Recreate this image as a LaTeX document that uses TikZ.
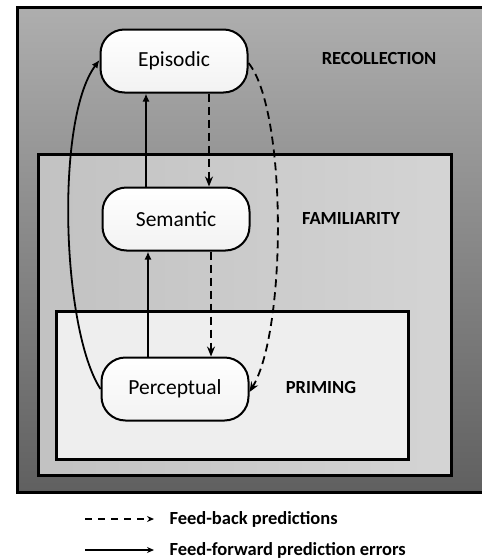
\documentclass[tikz,border=0pt]{standalone}
\usepackage{fontspec}
\setmainfont{Carlito}
\usetikzlibrary{arrows.meta}
\definecolor{outerdark}{HTML}{606060}
\definecolor{outerlight}{HTML}{AEAEAE}
\definecolor{middark}{HTML}{C2C2C2}
\definecolor{midlight}{HTML}{D4D4D4}
\definecolor{innerc}{HTML}{EEEEEE}
\tikzset{
  levelbox/.style={draw=black,line width=3pt},
  memnode/.style={draw=black,line width=2pt,rounded corners=24pt,
    top color=white,bottom color=gray!10,minimum width=147pt,minimum height=63pt,
    inner sep=0pt,font=\fontsize{21.5}{24}\selectfont},
  levellabel/.style={font=\bfseries\fontsize{18.5}{22}\selectfont},
  fwd/.style={line width=1.8pt,-{Latex[length=8pt,width=7pt]}},
  fbk/.style={line width=1.8pt,dash pattern=on 8pt off 5pt,-{Stealth[length=10pt,width=8pt]}},
  legtext/.style={font=\bfseries\fontsize{18.5}{22}\selectfont,anchor=west}
}
\begin{document}
\begin{tikzpicture}[x=1pt,y=-1pt]
\useasboundingbox (0,0) rectangle (482,560);
% outer box
\shade[shading angle=-45,top color=outerlight,bottom color=outerdark] (17,7) rectangle (495,492);
\draw[levelbox] (17,7) rectangle (495,492);
% middle box
\shade[left color=middark,right color=midlight] (38,154) rectangle (451,475);
\draw[levelbox] (38,154) rectangle (451,475);
% inner box
\fill[innerc] (56,311) rectangle (408,459);
\draw[levelbox] (56,311) rectangle (408,459);

\node[levellabel] (rec) at (379,58) {RECOLLECTION};
\node[levellabel] (fam) at (351,218) {FAMILIARITY};
\node[levellabel] (pri) at (321,387) {PRIMING};

\node[memnode] (E) at (174,61) {Episodic};
\node[memnode] (S) at (176,219) {Semantic};
\node[memnode] (P) at (175,389) {Perceptual};

% feed-forward
\draw[fwd] (P.north -| 148,0) -- (S.south -| 148,0);
\draw[fwd] (S.north -| 146,0) -- (E.south -| 146,0);
\draw[fwd] (P.west) .. controls (62,330) and (55,120) .. ([yshift=1pt]E.west);
% feed-back
\draw[fbk] (E.south -| 209,0) -- (S.north -| 209,0);
\draw[fbk] (S.south -| 211,0) -- (P.north -| 211,0);
\draw[fbk] ([yshift=-2pt]E.east) .. controls (287,110) and (287,330) .. ([yshift=-3pt]P.east);

% legend
\coordinate (l1a) at (85,519);
\coordinate (l1b) at (154,519);
\coordinate (l2a) at (85,550);
\coordinate (l2b) at (154,550);
\draw[fbk,dash pattern=on 7pt off 6pt,-{Stealth[length=7pt,width=6pt]}] (l1a) -- (l1b);
\draw[fwd,-{Stealth[length=7pt,width=6pt]}] (l2a) -- (l2b);
\node[legtext] (t1) at (166,519) {Feed-back predictions};
\node[legtext] (t2) at (166,550) {Feed-forward prediction errors};
\end{tikzpicture}
\end{document}
